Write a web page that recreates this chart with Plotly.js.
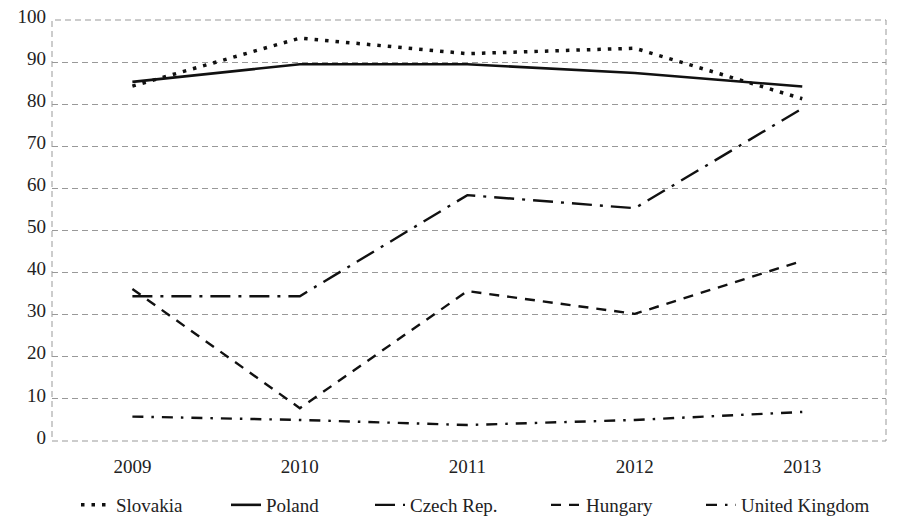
<!DOCTYPE html>
<html>
<head>
<meta charset="utf-8">
<script src="https://cdn.plot.ly/plotly-3.0.1.min.js"></script>
<style>html,body{margin:0;padding:0;background:#fff;}#chart{width:900px;height:518px;}</style>
</head>
<body>
<div id="chart"></div>
<script>
const years = ['2009', '2010', '2011', '2012', '2013'];
const slovakia = [84.3, 95.7, 92.0, 93.3, 81.3];
const poland = [85.3, 89.5, 89.5, 87.4, 84.2];
const czech = [34.4, 34.4, 58.4, 55.3, 79.0];
const hungary = [36.1, 7.8, 35.6, 30.2, 42.8];
const uk = [5.8, 5.0, 3.8, 5.0, 6.9];
const yTicks = [0, 10, 20, 30, 40, 50, 60, 70, 80, 90, 100];

const FONT = 'Liberation Serif';

const specs = [
  {name: 'Slovakia', y: slovakia, line: {dash: '3.5px,7px', width: 3.5}, lx: 118},
  {name: 'Poland', y: poland, line: {dash: 'solid', width: 2.6}, lx: 268},
  {name: 'Czech Rep.', y: czech, line: {dash: '20px,8px,3px,8px', width: 2.4}, lx: 412},
  {name: 'Hungary', y: hungary, line: {dash: '10px,8px', width: 2.4}, lx: 588},
  {name: 'United Kingdom', y: uk, line: {dash: '11px,8px,2.5px,8px', width: 2.4}, lx: 743}
];

const traces = specs.map((t, i) => ({
  type: 'scatter', mode: 'lines', x: years, y: t.y, name: t.name,
  legend: i === 0 ? 'legend' : 'legend' + (i + 1),
  line: Object.assign({color: '#111'}, t.line)
}));

const layout = {
  width: 900, height: 518,
  margin: {l: 52, r: 14, t: 20, b: 77, autoexpand: false},
  paper_bgcolor: '#fff', plot_bgcolor: '#fff',
  font: {family: FONT, size: 19, color: '#222'},
  xaxis: {
    type: 'category', range: [-0.48, 4.5],
    showgrid: false, zeroline: false, showline: false, ticks: '',
    ticklabelstandoff: 12,
    tickfont: {family: FONT, size: 19}
  },
  yaxis: {
    range: [0, 100], tickvals: yTicks, ticktext: yTicks.map(String),
    showgrid: true, gridcolor: '#999', griddash: '6px,4px', gridwidth: 1,
    zeroline: false, showline: false, ticks: '', ticklabelstandoff: 5,
    ticklabelshift: -4,
    tickfont: {family: FONT, size: 19}
  },
  shapes: [{
    type: 'rect', xref: 'paper', yref: 'paper', x0: 0, x1: 1, y0: 0, y1: 1,
    line: {color: '#999', width: 1, dash: '6px,4px'}, layer: 'below'
  }],
  showlegend: true
};

specs.forEach((t, i) => {
  const key = i === 0 ? 'legend' : 'legend' + (i + 1);
  layout[key] = {
    xref: 'container', yref: 'container',
    x: (t.lx - 42) / 900, xanchor: 'left',
    y: 13 / 518, yanchor: 'middle',
    font: {family: FONT, size: 19, color: '#222'},
    bgcolor: 'rgba(0,0,0,0)', borderwidth: 0
  };
});

Plotly.newPlot('chart', traces, layout, {displayModeBar: false, staticPlot: true});
</script>
</body>
</html>
